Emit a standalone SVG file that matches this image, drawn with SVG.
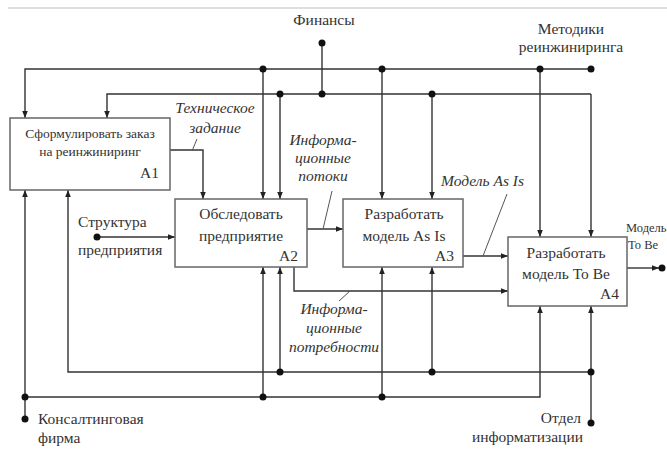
<svg xmlns="http://www.w3.org/2000/svg" width="667" height="452" viewBox="0 0 667 452" font-family="Liberation Serif, Times New Roman, DejaVu Serif, serif">
<defs>
<marker id="ah" viewBox="0 0 10 10" refX="10" refY="5" markerWidth="7" markerHeight="7" markerUnits="userSpaceOnUse" orient="auto">
<path d="M0,1 L10,5 L0,9 Z" fill="#222"/>
</marker>
</defs>
<style>
.bg{fill:#fff}
.box{fill:#fff;stroke:#666;stroke-width:1.5}
.ln{fill:none;stroke:#333;stroke-width:1.4}
.ar{fill:none;stroke:#333;stroke-width:1.4;marker-end:url(#ah)}
.ld{fill:none;stroke:#555;stroke-width:1}
.dot{fill:#111}
text{font-family:"Liberation Serif","Times New Roman","DejaVu Serif",serif;font-size:15.5px;fill:#333}
.s{font-size:13.5px}
.i{font-style:italic}
.m{text-anchor:middle}
.e{text-anchor:end}
</style>
<rect class="bg" x="0" y="0" width="667" height="452"/>
<line x1="8" y1="8" x2="667" y2="8" stroke="#d4d4d4" stroke-width="1.5"/>

<g id="connectors">
<polyline class="ar" points="591,69 25,69 25,118"/>
<line class="ar" x1="263" y1="69" x2="263" y2="199"/>
<line class="ar" x1="382" y1="69" x2="382" y2="199"/>
<line class="ar" x1="540" y1="69" x2="540" y2="237"/>
<line class="ln" x1="322" y1="43" x2="322" y2="94"/>
<polyline class="ar" points="591,94 107,94 107,118"/>
<line class="ar" x1="591" y1="94" x2="591" y2="237"/>
<line class="ar" x1="280" y1="94" x2="280" y2="199"/>
<line class="ar" x1="432" y1="94" x2="432" y2="199"/>
<polyline class="ar" points="170,150 203,150 203,199"/>
<line class="ld" x1="192" y1="151" x2="197" y2="139"/>
<line class="ar" x1="97" y1="237" x2="175" y2="237"/>
<line class="ar" x1="307" y1="229" x2="343" y2="229"/>
<line class="ld" x1="323" y1="229" x2="332" y2="191"/>
<polyline class="ar" points="294,267 294,291 508,291"/>
<line class="ld" x1="339" y1="301" x2="350" y2="291"/>
<line class="ar" x1="463" y1="256" x2="508" y2="256"/>
<line class="ld" x1="483" y1="256" x2="507" y2="194"/>
<line class="ar" x1="627" y1="268" x2="659" y2="268"/>
<line class="ar" x1="25" y1="419" x2="25" y2="190"/>
<polyline class="ar" points="25,397 540,397 540,306"/>
<line class="ar" x1="263" y1="397" x2="263" y2="267"/>
<line class="ar" x1="382" y1="397" x2="382" y2="267"/>
<line class="ar" x1="591" y1="423" x2="591" y2="306"/>
<polyline class="ar" points="591,372 68,372 68,190"/>
<line class="ar" x1="280" y1="372" x2="280" y2="267"/>
<line class="ar" x1="432" y1="372" x2="432" y2="267"/>
</g>

<g id="dots">
<circle class="dot" cx="322" cy="43" r="3.5"/>
<circle class="dot" cx="263" cy="69" r="3.5"/>
<circle class="dot" cx="382" cy="69" r="3.5"/>
<circle class="dot" cx="540" cy="69" r="3.5"/>
<circle class="dot" cx="591" cy="69" r="3.5"/>
<circle class="dot" cx="280" cy="94" r="3.5"/>
<circle class="dot" cx="322" cy="94" r="3.5"/>
<circle class="dot" cx="432" cy="94" r="3.5"/>
<circle class="dot" cx="97" cy="237" r="3.5"/>
<circle class="dot" cx="280" cy="372" r="3.5"/>
<circle class="dot" cx="432" cy="372" r="3.5"/>
<circle class="dot" cx="591" cy="372" r="3.5"/>
<circle class="dot" cx="25" cy="397" r="3.5"/>
<circle class="dot" cx="263" cy="397" r="3.5"/>
<circle class="dot" cx="382" cy="397" r="3.5"/>
<circle class="dot" cx="25" cy="419" r="3.5"/>
<circle class="dot" cx="591" cy="423" r="3.5"/>
<circle class="dot" cx="662" cy="268" r="3.5"/>
</g>

<g id="A1">
<rect class="box" x="10" y="118" width="160" height="72"/>
<text class="s m" x="90" y="138">Сформулировать заказ</text>
<text class="s m" x="90" y="156">на реинжиниринг</text>
<text class="e" x="159" y="178">A1</text>
</g>
<g id="A2">
<rect class="box" x="175" y="199" width="132" height="68"/>
<text class="m" x="241" y="219">Обследовать</text>
<text class="m" x="241" y="241">предприятие</text>
<text class="e" x="298" y="261">A2</text>
</g>
<g id="A3">
<rect class="box" x="343" y="199" width="120" height="68"/>
<text class="m" x="404" y="219">Разработать</text>
<text class="m" x="404" y="241">модель As Is</text>
<text class="e" x="454" y="261">A3</text>
</g>
<g id="A4">
<rect class="box" x="508" y="237" width="119" height="69"/>
<text class="m" x="566" y="258">Разработать</text>
<text class="m" x="566" y="279">модель To Be</text>
<text class="e" x="619" y="299">A4</text>
</g>

<g id="labels">
<text class="m" x="324" y="25">Финансы</text>
<text class="m" x="571" y="34">Методики</text>
<text class="m" x="571" y="52">реинжиниринга</text>
<text class="i m" x="215" y="113">Техническое</text>
<text class="i m" x="215" y="133">задание</text>
<text class="i m" x="323" y="145">Информа-</text>
<text class="i m" x="323" y="163">ционные</text>
<text class="i m" x="323" y="181">потоки</text>
<text class="i" x="441" y="186">Модель As Is</text>
<text class="i m" x="334" y="314">Информа-</text>
<text class="i m" x="334" y="333">ционные</text>
<text class="i m" x="334" y="352">потребности</text>
<text x="78" y="227">Структура</text>
<text x="78" y="255">предприятия</text>
<text x="626" y="232" style="font-size:12.5px">Модель</text>
<text x="628" y="249" style="font-size:12.5px">To Be</text>
<text x="38" y="424">Консалтинговая</text>
<text x="38" y="443">фирма</text>
<text class="e" x="581" y="423">Отдел</text>
<text class="e" x="583" y="442">информатизации</text>
</g>
</svg>
